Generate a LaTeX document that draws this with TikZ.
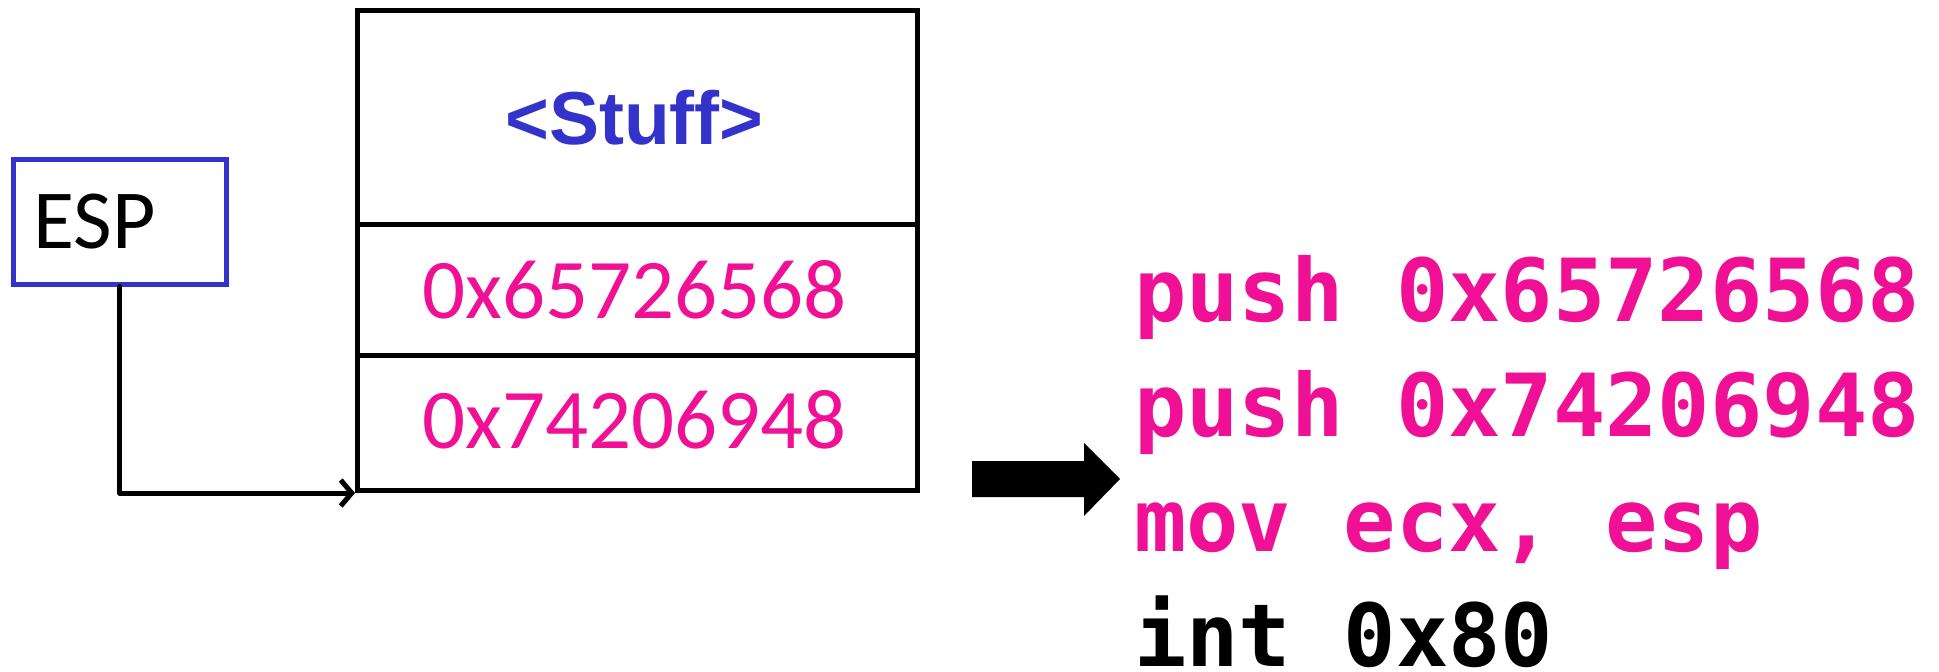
\documentclass[tikz,border=0pt]{standalone}
\usepackage{fontspec}
\usetikzlibrary{arrows.meta}
\newfontfamily\calfont{Carlito}
\newfontfamily\arialfont{Liberation Sans}
\newfontfamily\codefont{DejaVu Sans Mono}
\definecolor{stuffblue}{RGB}{51,51,204}
\definecolor{hexpink}{RGB}{240,16,150}
\begin{document}
\begin{tikzpicture}[x=1pt,y=-1pt,
  cell/.style={draw=black, line width=5pt, rectangle, anchor=north west, minimum width=560pt, inner sep=0pt},
  hexfont/.style={font=\calfont\fontsize{85}{100}\selectfont, text=hexpink},
  ptr/.style={line width=5pt, line cap=round, line join=round, -{Straight Barb[length=11pt,width=26pt]}}]
\useasboundingbox (0,0) rectangle (1939,672);
% stack cells
\node[cell, minimum height=214pt] (top) at (355,8) {};
\node[cell, minimum height=131pt] (mid) at (355,222) {};
\node[cell, minimum height=135pt] (bot) at (355,353) {};
\node[font=\arialfont\bfseries\fontsize{75}{90}\selectfont, text=stuffblue] (stuff) at ([xshift=-3pt]top.center) {<Stuff>};
\node[hexfont] (h1) at ([xshift=-3pt]mid.center) {0x65726568};
\node[hexfont] (h2) at ([xshift=-3pt,yshift=3pt]bot.center) {0x74206948};
% ESP register
\node[draw=stuffblue, line width=4.5pt, rectangle, anchor=north west, minimum height=125pt,
  inner xsep=20pt, inner ysep=0pt, text width=173pt, align=left,
  font=\calfont\fontsize{84}{100}\selectfont] (esp) at (11,157) {ESP};
\draw[ptr] (esp.south) |- (bot.south west);
% big arrow
\fill[black] (972,461) -- (1084,461) -- (1084,443) -- (1120,479) -- (1084,516) -- (1084,497) -- (972,497) -- cycle;
% code
\node[anchor=base west, inner sep=0pt, align=left,
  font=\codefont\bfseries\fontsize{87}{115}\selectfont] (code) at (1134,666)
  {\textcolor{hexpink}{push 0x65726568}\\
   \textcolor{hexpink}{push 0x74206948}\\
   \textcolor{hexpink}{mov ecx, esp}\\
   int 0x80};
\end{tikzpicture}
\end{document}
